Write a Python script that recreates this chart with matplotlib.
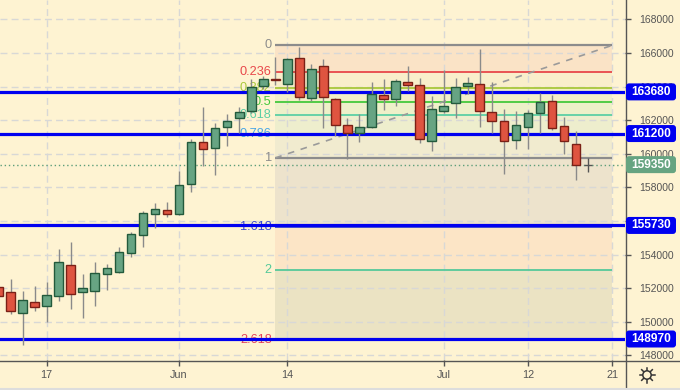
import math
import matplotlib
matplotlib.use('Agg')
import matplotlib.pyplot as plt
from matplotlib.patches import Rectangle, FancyBboxPatch, Circle
from matplotlib.lines import Line2D
from matplotlib.transforms import IdentityTransform

# ---------------- data ----------------
bar_index = list(range(-4, 46))
opens = [152080, 151750, 150520, 151150, 150930, 151550, 153370, 151750, 151810, 152860,
         152980, 154070, 155180, 156410, 156670, 156410, 158180, 160710, 160320, 161570,
         162110, 162540, 164030, 164420, 164150, 165680, 163330, 165220, 163240, 161690,
         161250, 161610, 163480, 163240, 164270, 164090, 160740, 162540, 163000, 164010,
         164150, 162500, 161950, 160830, 161610, 162420, 163120, 161630, 160590, 159300]
highs = [152300, 152560, 151830, 152120, 152380, 154330, 154730, 152820, 153530, 153430,
         154430, 155320, 156610, 157050, 157100, 158970, 160870, 162760, 161810, 162340,
         162760, 164430, 164650, 165770, 165700, 166370, 165320, 165640, 163300, 162110,
         162340, 164250, 164430, 164450, 165240, 164520, 163430, 165000, 164490, 164550,
         166210, 164250, 162640, 162520, 162600, 163590, 163480, 162200, 161350, 159730]
lows = [151300, 150460, 148600, 150650, 149980, 151230, 150740, 150200, 150930, 151870,
        152900, 153870, 154430, 155560, 156250, 156350, 157740, 159270, 158730, 160480,
        161210, 162400, 163850, 164090, 163690, 163200, 163150, 161510, 161050, 159670,
        160710, 161550, 162600, 162840, 163750, 160620, 160160, 162400, 162110, 163540,
        161610, 161210, 158790, 160260, 160260, 161210, 161410, 159960, 158430, 158910]
closes = [151530, 150650, 151270, 150890, 151570, 153530, 151630, 151990, 152920, 153180,
          154130, 155200, 156470, 156730, 156410, 158120, 160710, 160260, 161510, 161950,
          162480, 163950, 164450, 164380, 165640, 163390, 165020, 163360, 161710, 161210,
          161570, 163550, 163270, 164340, 164070, 160860, 162640, 162860, 163950, 164230,
          162560, 161930, 160770, 161690, 162420, 163060, 161550, 160740, 159300, 159350]

date_tick_pos = [0, 11, 20, 33, 40, 47]
date_tick_labels = ['17', 'Jun', '14', 'Jul', '12', '21']
price_ticks = list(range(148000, 168001, 2000))
hidden_price_labels = [156000]   # fully covered by the 155730 label in the reference

level_values = [163680, 161200, 155730, 148970]
last_price = 159350

fib_start, fib_end = 19, 47
fib_high, fib_low = 166450, 159750
fib_ratios = [0, 0.236, 0.382, 0.5, 0.618, 0.786, 1, 1.618, 2, 2.618]
fib_labels = ['0', '0.236', '0.382', '0.5', '0.618', '0.786', '1', '1.618', '2', '2.618']

# ---------------- style ----------------
bg = '#fef3d2'
fib_colors = ['#8c8c8c', '#e8474a', '#a9c83a', '#45c93c', '#5ccfa5', '#49a6e6',
              '#8c8c8c', '#3a48cf', '#55c99a', '#e5425a']
band_colors = ['#fae3c6', '#f9eecb', '#f2efc8', '#eef0c9', '#eeeecd', '#f1ebcf',
               '#ede3cc', '#fce5c6', '#ebe3c3']
green_fc, green_ec = '#67a483', '#235a3c'
red_fc, red_ec = '#df5440', '#7a2016'
wick_c = '#8a8a8a'
blue = '#0000f0'
plt.rcParams['font.family'] = ['Liberation Sans', 'DejaVu Sans']

W, H = 680, 390
fig = plt.figure(figsize=(W / 100, H / 100), dpi=100, facecolor=bg)
ax = fig.add_axes([0, 30 / H, 625 / W, 360 / H], facecolor=bg)
ax.set_xlim(-3.88, 48.07)
ax.set_ylim(147720, 169150)
for s in ax.spines.values():
    s.set_visible(False)

# grid
ax.set_axisbelow(True)
ax.grid(True, color='#d8d8d6', ls=(0, (5, 3)), lw=1)

# axes ticks
ax.yaxis.tick_right()
ax.set_yticks(price_ticks)
ax.set_yticklabels(['' if p in hidden_price_labels else str(p) for p in price_ticks])
ax.set_xticks(date_tick_pos)
ax.set_xticklabels(date_tick_labels)
ax.tick_params(axis='y', direction='out', length=4, width=1, color='#555555',
               labelcolor='#555555', labelsize=7.5, pad=6)
ax.tick_params(axis='x', direction='out', length=4, width=1, color='#555555',
               labelcolor='#555555', labelsize=7.8, pad=3)

# fib bands and lines
rng = fib_high - fib_low
fib_prices = [fib_high - r * rng for r in fib_ratios]
for k in range(len(fib_prices) - 1):
    ax.fill_between([fib_start, fib_end], fib_prices[k + 1], fib_prices[k],
                    color=band_colors[k], lw=0, zorder=0.2)
for p, c, lab in zip(fib_prices, fib_colors, fib_labels):
    lw = 1.6 if c == '#8c8c8c' else 1.3
    ax.hlines(p, fib_start, fib_end, color=c, lw=lw, zorder=1)
    ax.text(fib_start - 0.3, p, lab, color=c, fontsize=9.2, ha='right',
            va='center', zorder=1.1)
ax.plot([fib_start, fib_end], [fib_low, fib_high], color='#9a9a9a',
        ls=(0, (4, 4)), lw=1.2, zorder=1)

# level lines
for v in level_values:
    ax.axhline(v, color=blue, lw=2.3, zorder=2)
ax.axhline(last_price, color='#5e9e7a', ls=(0, (1, 2)), lw=1, zorder=2)

# candles
bw = 0.72
for x, o, h, l, c in zip(bar_index, opens, highs, lows, closes):
    if x == bar_index[-1] and abs(c - o) < 100:
        ax.vlines(x, l, h, color='#555555', lw=1, zorder=3)
        ax.hlines(c, x - bw / 2, x + bw / 2, color='#555555', lw=1, zorder=3)
        continue
    up = c >= o
    ax.vlines(x, l, h, color=wick_c, lw=1, zorder=3)
    body_h = max(abs(c - o), 40)
    ax.add_patch(Rectangle((x - bw / 2, min(o, c)), bw, body_h,
                           facecolor=green_fc if up else red_fc,
                           edgecolor=green_ec if up else red_ec, lw=1, zorder=4))

# price labels on the right axis
fig.canvas.draw()
def ypix(v):
    return ax.transData.transform((0, v))[1]

for v, fc in [(lv, blue) for lv in level_values] + [(last_price, '#66a481')]:
    yp = ypix(v)
    fig.add_artist(FancyBboxPatch((626, yp - 8.5), 50, 17,
                                  boxstyle='round,pad=0,rounding_size=3',
                                  transform=IdentityTransform(), fc=fc, ec='none',
                                  zorder=5))
    fig.text(651, yp, str(v), transform=IdentityTransform(), ha='center',
             va='center', color='white', fontsize=8.6, fontweight='bold', zorder=6)

# divider lines
fig.add_artist(Line2D([625.5, 625.5], [0, H], transform=IdentityTransform(),
                      color='#555555', lw=1, zorder=4))
fig.add_artist(Line2D([0, W], [29.5, 29.5], transform=IdentityTransform(),
                      color='#555555', lw=1, zorder=4))
fig.add_artist(Line2D([0, W], [1, 1], transform=IdentityTransform(),
                      color='#dddddd', lw=1.5, zorder=4))

# settings icon
cx, cy = 647, 15
fig.add_artist(Circle((cx, cy), 4.2, transform=IdentityTransform(), fc='none',
                      ec='#333333', lw=1.1))
for k in range(8):
    a = k * math.pi / 4
    fig.add_artist(Line2D([cx + 5 * math.cos(a), cx + 7.5 * math.cos(a)],
                          [cy + 5 * math.sin(a), cy + 7.5 * math.sin(a)],
                          transform=IdentityTransform(), color='#333333', lw=1.1))

fig.savefig('out.png', dpi=100, facecolor=bg)
